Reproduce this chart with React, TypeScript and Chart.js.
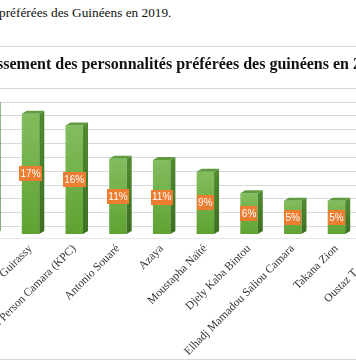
import React, { useEffect, useRef } from "react";
import { Chart, registerables } from "chart.js";

Chart.register(...registerables);

// ---- data ----
const caption = "préférées des Guinéens en 2019.";
const chartTitle = "Classement des personnalités préférées des guinéens en 2019";
const categories = [
  "",
  "Guirassy",
  "Kerfala Person Camara (KPC)",
  "Antonio Souaré",
  "Azaya",
  "Moustapha Naïté",
  "Djely Kaba Bintou",
  "Elhadj Mamadou Saliou Camara",
  "Takana Zion",
  "Oustaz T            ",
];
const shares = [18.7, 17.4, 15.7, 10.9, 10.7, 9.0, 5.9, 4.8, 4.8, 4.5];
const gridValues = [0, 2, 4, 6, 8, 10, 12, 14, 16, 18, 20];
const axisMax = 22;

// ---- 3D look constants ----
const DEPTH_DX = 5;
const DEPTH_DY = 3;
const WALL_DY = 8;

const depthPlugin = {
  id: "depth3d",
  beforeDatasetsDraw(chart: any) {
    const { ctx, chartArea, scales } = chart;
    const y = scales.y;
    ctx.save();
    ctx.strokeStyle = "#d6d9df";
    ctx.lineWidth = 1;
    for (const v of gridValues) {
      const py = Math.round(y.getPixelForValue(v) - WALL_DY) + 0.5;
      ctx.beginPath();
      ctx.moveTo(chartArea.left, py);
      ctx.lineTo(chartArea.right, py);
      ctx.stroke();
    }
    // floor front edge
    const fy = Math.round(y.getPixelForValue(0) + 4) + 0.5;
    ctx.strokeStyle = "#e4e6ea";
    ctx.beginPath();
    ctx.moveTo(chartArea.left, fy);
    ctx.lineTo(chartArea.right, fy);
    ctx.stroke();
    ctx.restore();
  },
  afterDatasetsDraw(chart: any) {
    const { ctx } = chart;
    const meta = chart.getDatasetMeta(0);
    ctx.save();
    meta.data.forEach((bar: any, i: number) => {
      const { x, y, base, width } = bar.getProps(["x", "y", "base", "width"], true);
      const l = x - width / 2;
      const r = x + width / 2;
      // side face
      const sg = ctx.createLinearGradient(0, y, 0, base);
      sg.addColorStop(0, "#4f8a2f");
      sg.addColorStop(1, "#3d6f22");
      ctx.fillStyle = sg;
      ctx.beginPath();
      ctx.moveTo(r, y);
      ctx.lineTo(r + DEPTH_DX, y - DEPTH_DY);
      ctx.lineTo(r + DEPTH_DX, base - DEPTH_DY);
      ctx.lineTo(r, base);
      ctx.closePath();
      ctx.fill();
      // top cap
      ctx.fillStyle = "#5f9a3f";
      ctx.beginPath();
      ctx.moveTo(l, y);
      ctx.lineTo(l + DEPTH_DX, y - DEPTH_DY);
      ctx.lineTo(r + DEPTH_DX, y - DEPTH_DY);
      ctx.lineTo(r, y);
      ctx.closePath();
      ctx.fill();

      // data label
      const text = Math.round(shares[i]) + "%";
      ctx.font = "10px 'Liberation Sans', Arial, sans-serif";
      const tw = ctx.measureText(text).width;
      const bw = tw + 3;
      const bh = 15;
      const cy = (y + base) / 2;
      ctx.fillStyle = "#ed7d31";
      ctx.fillRect(Math.round(x - bw / 2), Math.round(cy - bh / 2), Math.round(bw), bh);
      ctx.fillStyle = "#ffffff";
      ctx.textAlign = "center";
      ctx.textBaseline = "middle";
      ctx.fillText(text, x, cy + 0.5);
    });
    ctx.restore();
  },
};

export default function App() {
  const canvasRef = useRef<HTMLCanvasElement | null>(null);

  useEffect(() => {
    const canvas = canvasRef.current;
    if (!canvas) return;
    const chart = new Chart(canvas, {
      type: "bar",
      data: {
        labels: categories,
        datasets: [
          {
            data: shares,
            backgroundColor: (c: any) => {
              const ch = c.chart;
              const ys = ch.scales && ch.scales.y;
              if (!ys || !ch.chartArea || typeof c.raw !== "number") return "#70ad47";
              const top = ys.getPixelForValue(c.raw);
              const bot = ys.getPixelForValue(0);
              const g = ch.ctx.createLinearGradient(0, top, 0, bot);
              g.addColorStop(0, "#82bd5e");
              g.addColorStop(1, "#5fa232");
              return g;
            },
            borderWidth: 0,
            barPercentage: 0.4,
            categoryPercentage: 1,
          },
        ],
      },
      options: {
        responsive: false,
        animation: false,
        devicePixelRatio: 1,
        layout: { padding: { left: 0, right: 22, top: 0, bottom: 0 } },
        plugins: {
          legend: { display: false },
          tooltip: { enabled: false },
          title: {
            display: true,
            text: chartTitle,
            color: "#111",
            font: { family: "'Liberation Serif', 'Times New Roman', serif", size: 16, weight: "bold", lineHeight: 1.2 },
            padding: { top: 8.2, bottom: 7.6 },
          },
        },
        scales: {
          y: {
            display: true,
            min: 0,
            max: axisMax,
            grid: { display: false },
            border: { display: false },
            ticks: { display: false },
            afterFit: (scale: any) => {
              scale.width = 9;
            },
          },
          x: {
            grid: { display: false },
            border: { display: false },
            ticks: {
              autoSkip: false,
              maxRotation: 45,
              minRotation: 45,
              padding: 0,
              color: "#333",
              font: { family: "'Liberation Serif', 'Times New Roman', serif", size: 11.5 },
            },
            afterFit: (scale: any) => {
              scale.height = 125;
            },
          },
        },
      },
      plugins: [depthPlugin],
    });
    return () => chart.destroy();
  }, []);

  return (
    <div
      style={{
        position: "fixed",
        left: 0,
        top: 0,
        width: 356,
        height: 364,
        overflow: "hidden",
        background: "#fff",
      }}
    >
      <div
        style={{
          position: "absolute",
          left: -1,
          top: 4,
          whiteSpace: "nowrap",
          fontFamily: "'Liberation Serif', 'Times New Roman', serif",
          fontSize: 13.3,
          lineHeight: "18px",
          color: "#111",
        }}
      >
        {caption}
      </div>
      <div
        style={{
          position: "absolute",
          left: -45,
          top: 46,
          width: 468,
          height: 312,
          border: "1px solid #d9d9d9",
        }}
      >
        <canvas ref={canvasRef} width={468} height={312} style={{ display: "block" }} />
      </div>
    </div>
  );
}
